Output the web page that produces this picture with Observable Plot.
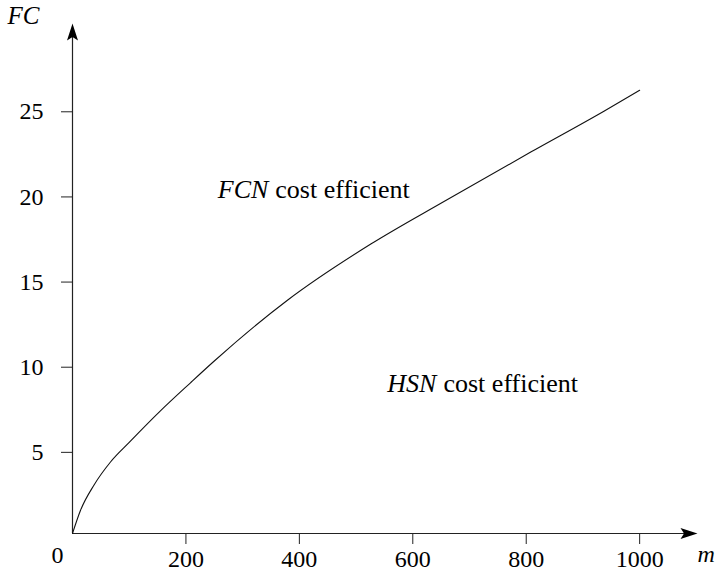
<!DOCTYPE html>
<html>
<head>
<meta charset="utf-8">
<script src="https://cdn.jsdelivr.net/npm/d3@7"></script>
<script src="https://cdn.jsdelivr.net/npm/@observablehq/plot@0.6"></script>
<style>
  html, body { margin: 0; padding: 0; background: #fff; }
  #chart svg, #chart svg text, #chart svg g { font-family: "Liberation Serif", "Times New Roman", serif !important; }
</style>
</head>
<body>
<div id="chart"></div>
<script>
// Data
const mValues  = [0, 14, 38, 67, 100, 155, 208, 249, 379, 526, 655, 808, 937, 1000];
const fcValues = [0, 1.35, 2.85, 4.2, 5.35, 7.2, 8.85, 10.1, 13.7, 17.0, 19.5, 22.4, 24.8, 26.03];
const xTicks = [200, 400, 600, 800, 1000];
const yTicks = [5, 10, 15, 20, 25];
const xMax = 1102;
const yMax = 29.95;
const annotations = [
  {m: 257, fc: 20.18, text: "FCN", rest: "cost efficient"},
  {m: 556, fc: 8.79, text: "HSN", rest: "cost efficient"}
];

const curveData = mValues.map((m, i) => ({m, fc: fcValues[i]}));

// LaTeX-like arrowheads (tip at the dot position)
const headUp = {draw(ctx) {
  ctx.moveTo(0, 0); ctx.lineTo(5.5, 17); ctx.lineTo(0, 13.5); ctx.lineTo(-5.5, 17); ctx.closePath();
}};
const headRight = {draw(ctx) {
  ctx.moveTo(0, 0); ctx.lineTo(-17, 5.5); ctx.lineTo(-13.5, 0); ctx.lineTo(-17, -5.5); ctx.closePath();
}};

const ink = "#222";
const FONT = "Liberation Serif";
const hasAxisMarks = typeof Plot.axisX === "function";

const axisMarks = hasAxisMarks ? [
  Plot.axisX(xTicks, {tickSize: 11, tickPadding: 5, label: null, tickFormat: d => String(d), fontSize: 24, stroke: ink}),
  Plot.axisY(yTicks, {tickSize: 11, tickPadding: 18, label: null, tickFormat: d => String(d), fontSize: 24, dy: 4, stroke: ink})
] : [];

const chart = Plot.plot({
  width: 717,
  height: 571,
  marginLeft: 72,
  marginRight: 20,
  marginTop: 23,
  marginBottom: 38,
  style: {fontFamily: FONT, fontSize: "24px", color: "#000", background: "#fff"},
  x: {domain: [0, xMax], ticks: xTicks, tickSize: 11, tickPadding: 5, label: null, tickFormat: d => String(d), axis: hasAxisMarks ? null : "bottom"},
  y: {domain: [0, yMax], ticks: yTicks, tickSize: 11, tickPadding: 18, label: null, tickFormat: d => String(d), axis: hasAxisMarks ? null : "left"},
  marks: [
    ...axisMarks,
    Plot.ruleY([0], {x1: 0, x2: xMax - 5, stroke: ink, strokeWidth: 1.2}),
    Plot.ruleX([0], {y1: 0, y2: yMax - 0.3, stroke: ink, strokeWidth: 1.2}),
    Plot.dot([{x: xMax, y: 0}], {x: "x", y: "y", symbol: headRight, fill: "#000", stroke: null, r: 5}),
    Plot.dot([{x: 0, y: yMax}], {x: "x", y: "y", symbol: headUp, fill: "#000", stroke: null, r: 5}),
    Plot.line(curveData, {x: "m", y: "fc", curve: "monotone-x", stroke: "#111", strokeWidth: 1.1}),
    Plot.text([{x: 0, y: 0}], {x: "x", y: "y", text: () => "0", dx: -15, dy: 22, fontSize: 24, fontFamily: FONT}),
    Plot.text([{x: xMax, y: 0}], {x: "x", y: "y", text: () => "m", dx: 0, dy: 21, textAnchor: "start", fontStyle: "italic", fontSize: 24, fontFamily: FONT}),
    Plot.text([{x: 0, y: yMax}], {x: "x", y: "y", text: () => "FC", dx: -65, dy: -8, textAnchor: "start", fontStyle: "italic", fontSize: 25, fontFamily: FONT})
  ]
});

// Annotations: italic label followed by upright text, positioned through the chart's scales
const xs = chart.scale("x"), ys = chart.scale("y");
const svg = d3.select(chart);
svg.attr("font-family", FONT);
svg.selectAll("text").attr("font-family", FONT).style("font-family", FONT);
annotations.forEach(a => {
  const t = svg.append("text")
    .attr("x", xs.apply(a.m))
    .attr("y", ys.apply(a.fc))
    .attr("dy", "0.32em")
    .attr("text-anchor", "start")
    .attr("font-size", 26)
    .attr("font-family", FONT)
    .style("font-family", FONT)
    .attr("fill", "#000");
  t.append("tspan").attr("font-style", "italic").text(a.text);
  t.append("tspan").attr("dx", 7).text(a.rest);
});

document.getElementById("chart").appendChild(chart);
</script>
</body>
</html>
